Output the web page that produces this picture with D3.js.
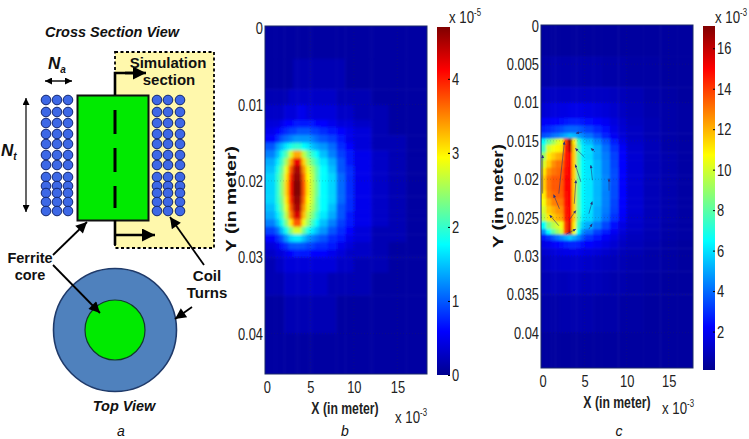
<!DOCTYPE html>
<html>
<head>
<meta charset="utf-8">
<script src="https://cdn.jsdelivr.net/npm/d3@7"></script>
<style>
  html, body { margin: 0; padding: 0; background: #fff; }
  svg { display: block; }
  text { font-family: "Liberation Sans", Arial, sans-serif; fill: #111; }
  .tick text, .narrow { font-size: 17px; fill: #222; }
  .schem { font-weight: bold; font-size: 14.5px; text-anchor: middle; }
</style>
</head>
<body>
<svg id="chart" width="749" height="439"></svg>
<script>
// panel b : values are x 1e-5, written x 10
const bXEdges = [0, 1, 1.5, 2, 2.5, 3, 3.5, 4, 4.5, 5, 5.5, 6, 7, 8, 9, 10, 12, 14, 16, 18.5];
const bYEdges = [0, .004, .008, .01, .012, .013, .014, .015, .016, .017, .018, .019, .02, .021, .022, .023, .024, .025, .026, .027, .028, .029, .03, .032, .035, .04, .0455];
const bValues = [
  [1, 1, 1, 1, 1, 1, 1, 1, 1, 1, 1, 1, 1, 1, 1, 1, 1, 1, 1],
  [1, 1, 1, 1, 1, 2, 2, 2, 2, 2, 2, 2, 2, 2, 1, 1, 1, 1, 1],
  [2, 2, 2, 2, 3, 3, 3, 3, 3, 3, 3, 3, 3, 2, 2, 2, 1, 1, 1],
  [3, 3, 3, 4, 4, 4, 5, 5, 4, 4, 4, 4, 4, 3, 3, 2, 2, 1, 1],
  [4, 4, 5, 6, 6, 7, 7, 7, 7, 7, 6, 6, 5, 4, 4, 3, 2, 1, 1],
  [5, 6, 7, 8, 9, 9, 10, 10, 10, 9, 9, 8, 7, 6, 5, 4, 2, 1, 1],
  [6, 8, 10, 11, 12, 13, 13, 13, 13, 12, 11, 10, 9, 7, 5, 4, 2, 2, 1],
  [10, 13, 15, 17, 19, 20, 20, 18, 17, 15, 14, 13, 11, 8, 6, 4, 2, 2, 1],
  [12, 15, 19, 22, 28, 34, 34, 27, 23, 20, 18, 15, 12, 9, 7, 5, 3, 2, 1],
  [14, 17, 21, 26, 34, 43, 43, 32, 26, 23, 20, 17, 14, 10, 7, 5, 3, 2, 1],
  [15, 19, 23, 29, 38, 46, 46, 35, 29, 26, 22, 18, 15, 10, 8, 5, 3, 2, 1],
  [16, 20, 24, 31, 40, 47, 47, 37, 30, 27, 22, 18, 16, 11, 8, 5, 3, 2, 1],
  [16, 20, 25, 32, 41, 48, 48, 38, 31, 27, 23, 18, 16, 11, 8, 5, 3, 2, 1],
  [16, 20, 25, 32, 41, 48, 48, 38, 31, 27, 23, 18, 16, 11, 8, 5, 3, 2, 1],
  [16, 20, 24, 31, 40, 47, 47, 37, 30, 27, 22, 18, 16, 11, 8, 5, 3, 2, 1],
  [15, 19, 23, 29, 38, 46, 46, 35, 29, 26, 22, 18, 15, 10, 8, 5, 3, 2, 1],
  [14, 17, 21, 27, 36, 44, 44, 33, 27, 24, 20, 17, 14, 10, 7, 5, 3, 2, 1],
  [12, 15, 19, 24, 31, 38, 38, 29, 25, 21, 18, 15, 12, 9, 7, 5, 3, 2, 1],
  [9, 11, 15, 19, 24, 28, 28, 23, 19, 17, 15, 13, 10, 8, 6, 4, 2, 2, 1],
  [6, 8, 10, 13, 16, 17, 17, 15, 13, 12, 11, 10, 8, 7, 5, 4, 2, 2, 1],
  [4, 5, 7, 8, 10, 10, 10, 10, 9, 9, 8, 8, 7, 5, 4, 3, 2, 1, 1],
  [3, 4, 4, 5, 6, 7, 7, 7, 7, 6, 6, 6, 5, 4, 3, 3, 2, 1, 1],
  [2, 3, 3, 4, 4, 4, 4, 4, 4, 4, 4, 4, 4, 3, 3, 2, 2, 1, 1],
  [2, 2, 2, 3, 3, 3, 3, 3, 3, 3, 3, 3, 2, 2, 2, 2, 1, 1, 1],
  [1, 1, 1, 2, 2, 2, 2, 2, 2, 2, 2, 2, 2, 1, 1, 1, 1, 1, 1],
  [1, 1, 1, 1, 1, 1, 1, 1, 1, 1, 1, 1, 1, 1, 1, 1, 1, 1, 1]
];

// panel c : values are x 1e-3
const cXEdges = [0, .4, 1, 1.5, 2, 2.5, 3, 3.5, 4, 4.5, 5, 6, 7, 8, 9, 10, 12, 14, 16, 18];
const cYEdges = [0, .004, .008, .01, .012, .013, .014, .0147, .0155, .0165, .0175, .0185, .0195, .0205, .0215, .0225, .0235, .0245, .0255, .0265, .0272, .028, .029, .03, .032, .035, .04, .0446];
const cValues = [
  [.3, .3, .3, .3, .3, .3, .3, .3, .3, .3, .3, .3, .3, .3, .3, .3, .3, .3, .3],
  [.5, .5, .6, .6, .6, .6, .6, .6, .6, .6, .6, .6, .5, .5, .5, .4, .4, .3, .3],
  [.9, 1, 1, 1, 1, 1, 1, 1, 1, 1, 1, 1, 1, .9, .8, .7, .5, .4, .3],
  [1.3, 1.4, 1.5, 1.5, 1.6, 1.6, 1.7, 1.7, 1.7, 1.7, 1.6, 1.5, 1.4, 1.2, 1, .8, .6, .5, .4],
  [2, 2, 2.2, 2.2, 2.4, 2.5, 2.6, 2.6, 2.6, 2.5, 2.4, 2.2, 1.9, 1.5, 1.2, .9, .7, .5, .4],
  [2.6, 2.8, 3, 3.2, 3.4, 3.7, 3.8, 3.8, 3.7, 3.5, 3.2, 2.8, 2.3, 1.7, 1.3, 1, .7, .5, .4],
  [3.4, 3.6, 4, 4.2, 4.6, 5, 5.4, 5.2, 4.8, 4.4, 4, 3.4, 2.7, 1.9, 1.4, 1, .7, .5, .4],
  [6.5, 8, 9, 10, 10.5, 14, 16.8, 11, 7.5, 5.8, 5.2, 4.4, 3.6, 2.6, 1.7, 1.1, .8, .5, .4],
  [7.5, 10, 10.5, 10.8, 11, 14.5, 16, 11.5, 8, 6.2, 5.8, 5, 4, 3, 2, 1.2, .8, .5, .4],
  [9, 11, 11.5, 12, 12.2, 14.5, 15, 11.5, 8, 6.2, 5.8, 5, 4.2, 3.2, 2.1, 1.3, .8, .6, .4],
  [10, 11.5, 12.5, 13, 13, 14.6, 15, 11.5, 8, 6.4, 6, 5.2, 4.3, 3.3, 2.2, 1.3, .8, .6, .4],
  [11, 12.5, 13, 13.2, 13.4, 14.8, 15, 11.5, 8, 6.4, 6, 5.2, 4.3, 3.4, 2.2, 1.3, .8, .6, .4],
  [11.5, 13, 13.5, 13.5, 13.5, 15, 15, 11.5, 8, 6.4, 6, 5.2, 4.4, 3.4, 2.2, 1.3, .8, .6, .4],
  [11.5, 13, 13.5, 13.5, 13.5, 15, 15, 11.5, 8, 6.4, 6, 5.2, 4.4, 3.4, 2.2, 1.3, .8, .6, .4],
  [11, 12.8, 13.2, 13.4, 13.4, 14.8, 15, 11.5, 8, 6.4, 6, 5.2, 4.3, 3.4, 2.2, 1.3, .8, .6, .4],
  [10.5, 12, 12.8, 13, 13, 14.7, 15, 11.5, 8, 6.4, 6, 5.2, 4.3, 3.3, 2.2, 1.3, .8, .6, .4],
  [10, 11.5, 12, 12.5, 12.6, 14.6, 15, 11.5, 8, 6.4, 5.9, 5, 4.2, 3.2, 2.1, 1.3, .8, .6, .4],
  [9.5, 11, 11.5, 12, 12.3, 14.5, 15, 11.5, 8, 6.2, 5.8, 5, 4, 3, 2, 1.2, .8, .6, .4],
  [6.5, 8.5, 9.5, 10, 10.5, 14, 15.5, 11, 7.5, 5.6, 5, 4.2, 3.3, 2.3, 1.6, 1.1, .8, .5, .4],
  [4.5, 6.5, 8, 9, 10, 14, 16, 10.5, 6.5, 4.6, 4, 3.2, 2.6, 1.9, 1.4, 1, .7, .5, .4],
  [2.5, 3, 3.5, 4, 4.5, 5, 5.5, 5, 4.4, 3.6, 3, 2.5, 2, 1.6, 1.2, .9, .7, .5, .4],
  [1.6, 1.8, 2, 2.2, 2.4, 2.6, 2.7, 2.7, 2.6, 2.4, 2.2, 1.9, 1.6, 1.3, 1, .8, .6, .4, .3],
  [1.2, 1.3, 1.4, 1.5, 1.6, 1.7, 1.7, 1.7, 1.7, 1.6, 1.5, 1.4, 1.2, 1, .8, .7, .5, .4, .3],
  [.9, 1, 1.1, 1.1, 1.2, 1.2, 1.2, 1.2, 1.2, 1.2, 1.1, 1, .9, .8, .7, .6, .5, .4, .3],
  [.7, .7, .8, .8, .8, .8, .9, .9, .9, .8, .8, .8, .7, .6, .6, .5, .4, .3, .3],
  [.5, .5, .5, .5, .6, .6, .6, .6, .6, .6, .6, .5, .5, .5, .4, .4, .3, .3, .3],
  [.3, .3, .3, .3, .3, .3, .3, .3, .3, .3, .3, .3, .3, .3, .3, .3, .3, .3, .3]
];

// field arrows of panel c: [x0, y0, x1, y1] in (mm, m)
const cArrows = [
  [1.92, .02188, 2.59, .01509], [0, .02186, 0, .01684], [2, .02386, 1.3, .022],
  [1.92, .02605, .82, .02465], [2.8, .02715, 3.96, .0265], [3.18, .02526, 3.96, .02408],
  [3.76, .0232, 3.96, .02013], [4.55, .02035, 3.88, .01807], [4.94, .01707, 3.88, .01596],
  [4.7, .01386, 3.96, .014], [5.92, .02013, 5.73, .01816], [6.2, .01641, 5.73, .01596],
  [5.5, .0245, 5.9, .0229], [7.9, .0215, 7.9, .0199], [5.5, .0265, 5.9, .0258]
];

const bXTicks = [0, 5, 10, 15];
const bYTicks = [0, .01, .02, .03, .04];
const bBarTicks = [0, 1, 2, 3, 4];
const cXTicks = [0, 5, 10, 15];
const cYTicks = [0, .005, .01, .015, .02, .025, .03, .035, .04];
const cBarTicks = [2, 4, 6, 8, 10, 12, 14, 16];

const jetStops = [0, .125, .375, .625, .875, 1];
const jetColors = ["#00008f", "#0000ff", "#00ffff", "#ffff00", "#ff0000", "#800000"];

// schematic layout
const coilColsLeft = [46, 57, 68];
const coilColsRight = [157, 168, 180];
const coilRows = [100, 112, 123, 134, 144, 155, 165, 177, 186, 193, 202, 211];

const svg = d3.select("#chart");
const defs = svg.append("defs");

const jet = d3.scaleLinear().domain(jetStops).range(jetColors).clamp(true);

const grad = defs.append("linearGradient").attr("id", "jetGrad")
  .attr("x1", 0).attr("x2", 0).attr("y1", 1).attr("y2", 0);
jetStops.forEach((s, i) => grad.append("stop").attr("offset", s).attr("stop-color", jetColors[i]));

const addArrow = (id, color, w, h) => {
  defs.append("marker").attr("id", id)
    .attr("viewBox", "0 -5 10 10").attr("refX", 10).attr("refY", 0)
    .attr("markerUnits", "userSpaceOnUse")
    .attr("markerWidth", w).attr("markerHeight", h).attr("orient", "auto-start-reverse")
    .append("path").attr("d", "M0,-5L10,0L0,5Z").attr("fill", color);
};
addArrow("headBig", "#000", 16, 13);
addArrow("headMid", "#000", 13, 11);
addArrow("headSmall", "#000", 8, 7);
addArrow("headField", "#2a2f7c", 4, 3);

// the original axis text is squeezed sideways
const squeeze = (sel, k) => sel.each(function () {
  const t = d3.select(this);
  const x = +t.attr("x") || 0;
  t.attr("transform", `translate(${x},0) scale(${k},1) translate(${-x},0)`);
});

const drawPanel = (opt) => {
  const { id, box, bar, xDomain, yDomain, xEdges, yEdges, values, scaleValue, vMax, blur } = opt;
  const x = d3.scaleLinear().domain(xDomain).range([box.left, box.right]);
  const y = d3.scaleLinear().domain(yDomain).range([box.top, box.bottom]);
  const color = (v) => jet(scaleValue(v) / vMax);

  defs.append("clipPath").attr("id", `clip-${id}`).append("rect")
    .attr("x", box.left).attr("y", box.top)
    .attr("width", box.right - box.left).attr("height", box.bottom - box.top);
  defs.append("filter").attr("id", `blur-${id}`).attr("filterUnits", "userSpaceOnUse")
    .attr("x", box.left - 30).attr("y", box.top - 30)
    .attr("width", box.right - box.left + 60).attr("height", box.bottom - box.top + 60)
    .append("feGaussianBlur").attr("stdDeviation", blur);

  const cells = values.flatMap((row, j) => row.map((v, i) => ({ i, j, v })));
  const pad = 25;
  svg.append("g").attr("clip-path", `url(#clip-${id})`)
    .append("g").attr("filter", `url(#blur-${id})`)
    .selectAll("rect").data(cells).join("rect")
    .attr("x", (d) => x(xEdges[d.i]) - (d.i === 0 ? pad : 0))
    .attr("y", (d) => y(yEdges[d.j]) - (d.j === 0 ? pad : 0))
    .attr("width", (d) => x(xEdges[d.i + 1]) - x(xEdges[d.i]) + 0.5 + (d.i === 0 || d.i === xEdges.length - 2 ? pad : 0))
    .attr("height", (d) => y(yEdges[d.j + 1]) - y(yEdges[d.j]) + 0.5 + (d.j === 0 || d.j === yEdges.length - 2 ? pad : 0))
    .attr("fill", (d) => color(d.v));

  // dotted grid
  const grid = svg.append("g").attr("stroke", "#333").attr("stroke-opacity", 0.25)
    .attr("stroke-width", 0.8).attr("stroke-dasharray", "1,2");
  grid.selectAll(".gy").data(opt.yTicks.slice(1)).join("line")
    .attr("x1", box.left).attr("x2", box.right)
    .attr("y1", (d) => y(d)).attr("y2", (d) => y(d));
  grid.selectAll(".gx").data(opt.xTicks.slice(1)).join("line")
    .attr("y1", box.top).attr("y2", box.bottom)
    .attr("x1", (d) => x(d)).attr("x2", (d) => x(d));

  svg.append("rect").attr("x", box.left).attr("y", box.top)
    .attr("width", box.right - box.left).attr("height", box.bottom - box.top)
    .attr("fill", "none").attr("stroke", "#1c2a6a").attr("stroke-width", 1);

  const yAxis = d3.axisLeft(y).tickValues(opt.yTicks).tickSize(0).tickPadding(2)
    .tickFormat((d) => (d === 0 ? "0" : String(+d.toFixed(3))));
  svg.append("g").attr("transform", `translate(${box.left},0)`).call(yAxis)
    .call((g) => g.select(".domain").remove())
    .call((g) => squeeze(g.selectAll("text"), 0.76));
  const xAxis = d3.axisBottom(x).tickValues(opt.xTicks).tickSize(0).tickPadding(7);
  svg.append("g").attr("transform", `translate(0,${box.bottom})`).call(xAxis)
    .call((g) => g.select(".domain").remove())
    .call((g) => squeeze(g.selectAll("text"), 0.76));

  // colour bar
  const barY = d3.scaleLinear().domain(opt.barDomain).range([bar.bottom, bar.top]);
  svg.append("rect").attr("x", bar.left).attr("y", bar.top)
    .attr("width", bar.right - bar.left).attr("height", bar.bottom - bar.top)
    .attr("fill", "url(#jetGrad)");
  const barAxis = d3.axisRight(barY).tickValues(opt.barTicks).tickSize(-2).tickPadding(2)
    .tickFormat(d3.format("d"));
  svg.append("g").attr("transform", `translate(${bar.right},0)`).call(barAxis)
    .call((g) => g.select(".domain").remove())
    .call((g) => squeeze(g.selectAll("text"), 0.76));

  return { x, y };
};

const b = drawPanel({
  id: "b",
  box: { left: 265, right: 427, top: 26, bottom: 374 },
  bar: { left: 437, right: 450, top: 27, bottom: 375 },
  xDomain: [-0.2, 18.4], yDomain: [-0.0003, .0453],
  xEdges: bXEdges, yEdges: bYEdges, values: bValues,
  scaleValue: (v) => v / 10, vMax: 4.8, blur: 1.8,
  xTicks: bXTicks, yTicks: bYTicks,
  barDomain: [0, 4.7], barTicks: bBarTicks
});

const c = drawPanel({
  id: "c",
  box: { left: 541, right: 693, top: 25, bottom: 368 },
  bar: { left: 703, right: 715, top: 26, bottom: 370 },
  xDomain: [-0.2, 17.9], yDomain: [-0.0001, .0446],
  xEdges: cXEdges, yEdges: cYEdges, values: cValues,
  scaleValue: (v) => v, vMax: 17.1, blur: 0.9,
  xTicks: cXTicks, yTicks: cYTicks,
  barDomain: [.1, 17.1], barTicks: cBarTicks
});

svg.append("g").selectAll("line").data(cArrows).join("line")
  .attr("x1", (d) => c.x(d[0])).attr("y1", (d) => c.y(d[1]))
  .attr("x2", (d) => c.x(d[2])).attr("y2", (d) => c.y(d[3]))
  .attr("stroke", "#2a2f7c").attr("stroke-width", 0.8).attr("stroke-opacity", 0.7)
  .attr("marker-end", "url(#headField)");

// axis titles
const yTitle = (x, yc, len) => svg.append("text").attr("transform", `translate(${x},${yc}) rotate(-90)`)
  .attr("text-anchor", "middle").attr("font-weight", "bold").attr("font-size", 15)
  .attr("textLength", len).attr("lengthAdjust", "spacingAndGlyphs").text("Y (in meter)");
yTitle(236, 199, 106);
yTitle(503, 196, 104);

const xTitle = (x, y) => svg.append("text").attr("class", "narrow").attr("x", x).attr("y", y)
  .attr("text-anchor", "middle").attr("font-weight", "bold").text("X (in meter)")
  .call((t) => squeeze(t, 0.72));
xTitle(345, 414);
xTitle(617, 408);

const powerLabel = (x, y, exp) => {
  const t = svg.append("text").attr("class", "narrow").attr("x", x).attr("y", y).text("x 10");
  t.append("tspan").attr("dy", -7).attr("font-size", 10).text(exp);
  squeeze(t, 0.78);
};
powerLabel(395, 423, "-3");
powerLabel(662, 414, "-3");
powerLabel(449, 23, "-5");
powerLabel(715, 23, "-3");

// schematic
const schem = svg.append("g");
schem.append("rect").attr("x", 115).attr("y", 52).attr("width", 99).attr("height", 196)
  .attr("fill", "#fff8ac").attr("stroke", "#000").attr("stroke-width", 1.8).attr("stroke-dasharray", "3,2.5");

const coilCols = coilColsLeft.concat(coilColsRight);
schem.append("g").selectAll("circle")
  .data(d3.cross(coilCols, coilRows)).join("circle")
  .attr("cx", (d) => d[0]).attr("cy", (d) => d[1]).attr("r", 4.8)
  .attr("fill", "#3d68e6").attr("stroke", "#12266e").attr("stroke-width", 1);

schem.append("rect").attr("x", 77.5).attr("y", 95.5).attr("width", 71).attr("height", 125)
  .attr("fill", "#00ea00").attr("stroke", "#111").attr("stroke-width", 2);
schem.append("line").attr("x1", 115).attr("x2", 115).attr("y1", 110).attr("y2", 208)
  .attr("stroke", "#000").attr("stroke-width", 3).attr("stroke-dasharray", "24,14");

const line = (x1, y1, x2, y2, w, head, both) => {
  const l = schem.append("line").attr("x1", x1).attr("y1", y1).attr("x2", x2).attr("y2", y2)
    .attr("stroke", "#000").attr("stroke-width", w);
  if (head) l.attr("marker-end", `url(#${head})`);
  if (both) l.attr("marker-start", `url(#${head})`);
};
schem.append("path").attr("d", "M115,95V73H135").attr("fill", "none").attr("stroke", "#000").attr("stroke-width", 2.6);
line(125, 73, 146, 73, 2.6, "headBig");
line(115, 220, 115, 245, 2.6);
line(115, 235, 155, 235, 2.6, "headBig");
line(45, 81, 72, 81, 1.4, "headSmall", true);
line(26, 98, 26, 212, 1.2, "headSmall", true);
line(53, 255, 87, 222, 1.8, "headMid");
line(204, 265, 170, 217, 1.8, "headMid");

schem.append("circle").attr("cx", 115).attr("cy", 330).attr("r", 61.5)
  .attr("fill", "#4f81bd").attr("stroke", "#1f3a6a").attr("stroke-width", 1.6);
schem.append("circle").attr("cx", 115).attr("cy", 330).attr("r", 30)
  .attr("fill", "#00ea00").attr("stroke", "#123a2a").attr("stroke-width", 1.2);
line(53, 265, 100, 313, 1.8, "headMid");
line(192, 307, 175, 319, 1.8, "headMid");

const label = (x, y, s, opts = {}) => schem.append("text").attr("class", "schem").attr("x", x).attr("y", y)
  .attr("font-style", opts.italic ? "italic" : null).attr("font-size", opts.size || null)
  .style("font-size", opts.size ? `${opts.size}px` : null).text(s);
label(112, 37, "Cross Section View", { italic: true });
label(168, 68, "Simulation", { size: 15 });
label(169, 85, "section", { size: 15 });
label(30, 263, "Ferrite");
label(30, 280, "core");
label(207, 281, "Coil", { size: 15 });
label(207, 298, "Turns", { size: 15 });
label(124, 411, "Top View", { italic: true });

const sub = (x, y, s, t) => {
  const e = schem.append("text").attr("x", x).attr("y", y).attr("font-weight", "bold")
    .attr("font-style", "italic").attr("font-size", 17).text(s);
  e.append("tspan").attr("dy", 4).attr("font-size", 10).text(t);
};
sub(48, 69, "N", "a");
sub(1, 156, "N", "t");

const panelTag = (x, y, s) => svg.append("text").attr("x", x).attr("y", y).attr("text-anchor", "middle")
  .attr("font-style", "italic").attr("font-size", 14).text(s);
panelTag(121, 436, "a");
panelTag(345, 436, "b");
panelTag(619, 436, "c");
</script>
</body>
</html>
